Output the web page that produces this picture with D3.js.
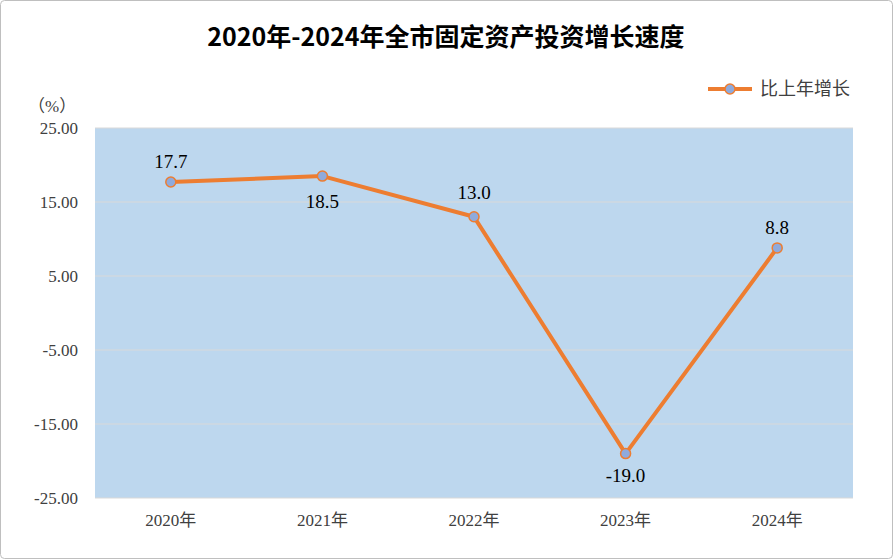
<!DOCTYPE html>
<html>
<head>
<meta charset="utf-8">
<style>
  body { margin: 0; background: #fff; }
  svg text { font-family: "Liberation Serif", "Noto Sans CJK SC", serif; }
</style>
</head>
<body>
<svg id="chart" width="893" height="559"></svg>
<script src="https://cdn.jsdelivr.net/npm/d3@7/dist/d3.min.js"></script>
<script>
  var years = ["2020年", "2021年", "2022年", "2023年", "2024年"];
  var growth = [17.7, 18.5, 13.0, -19.0, 8.8];
  var yTicks = [25, 15, 5, -5, -15, -25];
  var seriesName = "比上年增长";

  var svg = d3.select("#chart");
  var plotLeft = 95, plotRight = 853, plotTop = 128, plotBottom = 498;

  svg.append("rect").attr("x", 0.5).attr("y", 0.5).attr("width", 892).attr("height", 558)
    .attr("rx", 4).attr("fill", "#fff").attr("stroke", "#bfbfbf");

  var x = d3.scaleBand().domain(years).range([plotLeft, plotRight]);
  var y = d3.scaleLinear().domain([-25, 25]).range([plotBottom, plotTop]);

  svg.append("rect").attr("x", plotLeft).attr("y", plotTop)
    .attr("width", plotRight - plotLeft).attr("height", plotBottom - plotTop).attr("fill", "#bdd7ee");

  svg.selectAll(".grid").data(yTicks).enter().append("line")
    .attr("x1", plotLeft).attr("x2", plotRight)
    .attr("y1", function (d) { return y(d); }).attr("y2", function (d) { return y(d); })
    .attr("stroke", "#d9d9d9").attr("stroke-width", 1);

  svg.selectAll(".ytick").data(yTicks).enter().append("text")
    .attr("x", 78).attr("y", function (d) { return y(d); }).attr("dy", "0.35em")
    .attr("text-anchor", "end").attr("font-size", 17).attr("fill", "#404040")
    .text(function (d) { return d.toFixed(2); });

  svg.selectAll(".xtick").data(years).enter().append("text")
    .attr("x", function (d) { return x(d) + x.bandwidth() / 2; }).attr("y", 526)
    .attr("text-anchor", "middle").attr("font-size", 17).attr("fill", "#404040")
    .text(function (d) { return d; });

  svg.append("text").attr("x", 28).attr("y", 112).attr("font-size", 17).attr("fill", "#404040").text("（%）");

  svg.append("text").attr("x", 446).attr("y", 46).attr("text-anchor", "middle")
    .attr("font-size", 25).attr("font-weight", "bold").attr("fill", "#000")
    .style("font-family", "'Noto Sans CJK SC', sans-serif")
    .text("2020年-2024年全市固定资产投资增长速度");

  var pts = years.map(function (d, i) { return [x(d) + x.bandwidth() / 2, y(growth[i])]; });

  svg.append("path").attr("d", d3.line()(pts)).attr("fill", "none")
    .attr("stroke", "#ed7d31").attr("stroke-width", 4).attr("stroke-linejoin", "round");

  svg.selectAll(".pt").data(pts).enter().append("circle")
    .attr("cx", function (d) { return d[0]; }).attr("cy", function (d) { return d[1]; })
    .attr("r", 5).attr("fill", "#8faadc").attr("stroke", "#ed7d31").attr("stroke-width", 1.5);

  var labelDy = [-14, 32, -18, 28, -14];
  svg.selectAll(".lbl").data(pts).enter().append("text")
    .attr("x", function (d) { return d[0]; })
    .attr("y", function (d, i) { return d[1] + labelDy[i]; })
    .attr("text-anchor", "middle").attr("font-size", 19).attr("fill", "#000")
    .text(function (d, i) { return growth[i].toFixed(1); });

  svg.append("line").attr("x1", 708).attr("x2", 752).attr("y1", 89).attr("y2", 89)
    .attr("stroke", "#ed7d31").attr("stroke-width", 4);
  svg.append("circle").attr("cx", 730).attr("cy", 89).attr("r", 5)
    .attr("fill", "#8faadc").attr("stroke", "#ed7d31").attr("stroke-width", 1.5);
  svg.append("text").attr("x", 760).attr("y", 89).attr("dy", "0.35em")
    .attr("font-size", 18).attr("fill", "#404040")
    .style("font-family", "'Noto Sans CJK SC', sans-serif").text(seriesName);
</script>
</body>
</html>
